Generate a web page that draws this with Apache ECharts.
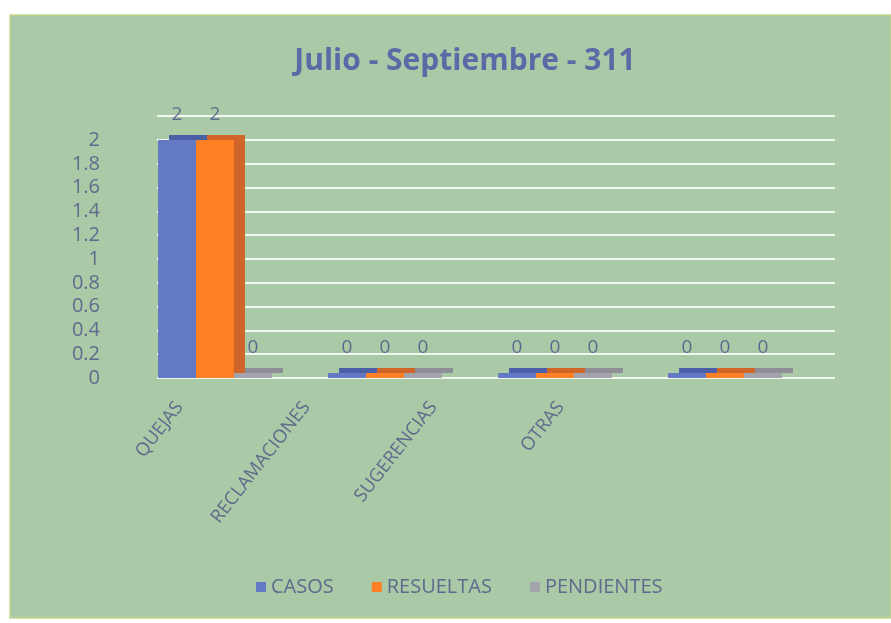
<!DOCTYPE html>
<html><head><meta charset="utf-8">
<script src="https://cdn.jsdelivr.net/npm/echarts@6/dist/echarts.min.js"></script>
<style>html,body{margin:0;padding:0;background:#fff}#c{width:891px;height:623px}</style>
</head><body><div id="c"></div>
<script>
var categories = ['QUEJAS', 'RECLAMACIONES', 'SUGERENCIAS', 'OTRAS'];
var casos = [2, 0, 0, 0];
var resueltas = [2, 0, 0, 0];
var pendientes = [0, 0, 0, 0];
var yTicks = [0, 0.2, 0.4, 0.6, 0.8, 1, 1.2, 1.4, 1.6, 1.8, 2];
var yMax = 2;        // last tick label
var wallMax = 2.2;   // back wall top edge line

var txt = '#5d6c8e';
var font = 'Open Sans';
function mk(name, data, color, side) {
  return {
    name: name, type: 'bar', data: data, barGap: '0%', barCategoryGap: '33%',
    xAxisIndex: 0, yAxisIndex: 0, barMinHeight: 5,
    itemStyle: { color: color, shadowColor: side, shadowOffsetX: 11, shadowOffsetY: -5, shadowBlur: 0 },
    label: { show: true, position: 'top', distance: 16, color: txt, fontSize: 19, fontFamily: font },
    emphasis: { disabled: true }
  };
}
var chart = echarts.init(document.getElementById('c'));
chart.setOption({
  backgroundColor: '#ffffff',
  animation: false,
  graphic: [{ type: 'rect', z: -10, shape: { x: 10, y: 15, width: 881, height: 603 },
    style: { fill: '#aac9a6', stroke: '#c4d68e', lineWidth: 1.5 } }],
  title: { text: 'Julio - Septiembre - 311', left: 460, top: 41, textAlign: 'center',
    textStyle: { color: '#5b6aa6', fontSize: 30, fontWeight: 'bold', fontFamily: font } },
  legend: { top: 572, left: 251, itemWidth: 10, itemHeight: 10, itemGap: 38, icon: 'rect',
    textStyle: { color: txt, fontSize: 20, fontFamily: font } },
  grid: [
    { left: 130, top: 140, width: 680, height: 238 },
    { left: 157, top: 116, width: 678, height: 262 },
    { left: 116, top: 116, width: 508, height: 262 }
  ],
  xAxis: [
    { type: 'category', data: categories, gridIndex: 0,
      axisLine: { show: false }, axisTick: { show: false }, axisLabel: { show: false } },
    { type: 'category', data: categories, gridIndex: 1, show: false },
    { type: 'category', data: categories, gridIndex: 2,
      axisLine: { show: false }, axisTick: { show: false },
      axisLabel: { rotate: 52, color: txt, fontSize: 18.5, fontFamily: font, margin: 26 } }
  ],
  yAxis: [
    { type: 'value', gridIndex: 0, min: 0, max: yMax, interval: 0.2,
      axisLine: { show: false }, axisTick: { show: false }, splitLine: { show: false },
      axisLabel: { color: txt, fontSize: 20, lineHeight: 18, fontFamily: font, margin: 30,
        customValues: yTicks, hideOverlap: false } },
    { type: 'value', gridIndex: 1, min: 0, max: wallMax, interval: 0.2,
      axisLine: { show: false }, axisTick: { show: false }, axisLabel: { show: false },
      splitLine: { lineStyle: { color: 'rgba(255,255,255,0.85)', width: 2 } } },
    { type: 'value', gridIndex: 2, min: 0, max: wallMax, interval: 0.2, show: false }
  ],
  series: [
    mk('CASOS', casos, '#6479c4', '#4a5fa6'),
    mk('RESUELTAS', resueltas, '#ff7f24', '#d0652a'),
    mk('PENDIENTES', pendientes, '#a3a3ab', '#8e8e96')
  ]
});
</script></body></html>
